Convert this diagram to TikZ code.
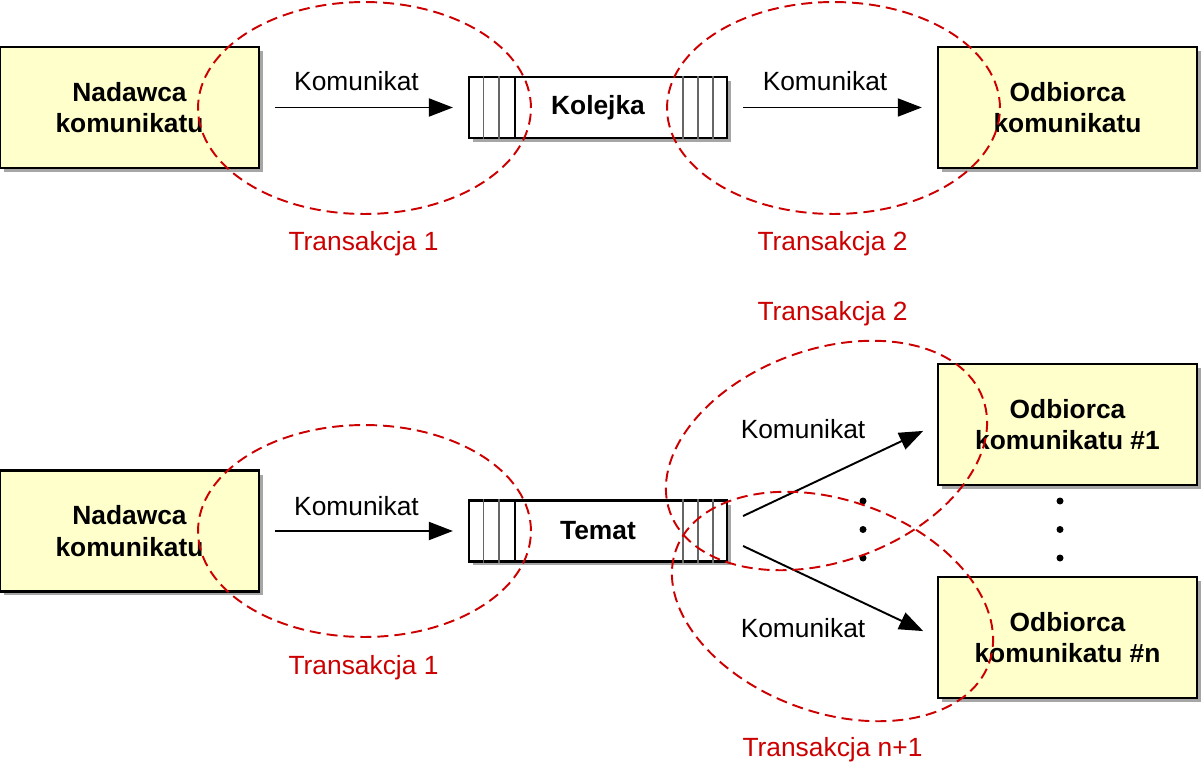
\documentclass[tikz,border=0pt]{standalone}
\usepackage{fontspec}
\setmainfont{Liberation Sans}
\usepackage{tikz}
\usetikzlibrary{arrows.meta}
\usetikzlibrary{shadows}
\definecolor{boxyellow}{RGB}{255,255,204}
\definecolor{transred}{RGB}{204,0,0}

\begin{document}
\begin{tikzpicture}[
			x=0.02cm, y=-0.02cm,
			actor/.style={rectangle, draw, line width=1.4pt, fill=boxyellow, inner sep=0pt,
				minimum width=5.18cm, minimum height=2.42cm, align=center,
				font=\fontsize{15}{18}\selectfont\bfseries,
				drop shadow={shadow xshift=0.08cm, shadow yshift=-0.08cm, opacity=1, fill=black!35}},
			queue/.style={rectangle, draw, line width=1.3pt, fill=white, inner sep=0pt,
				minimum width=5.16cm, minimum height=1.22cm,
				font=\fontsize{15}{18}\selectfont\bfseries,
				drop shadow={shadow xshift=0.08cm, shadow yshift=-0.08cm, opacity=1, fill=black!35}},
			cell/.style={black!60, line width=0.8pt},
			msg/.style={line width=1.1pt, -{Triangle[length=0.48cm, width=0.36cm]}, shorten >=0.3cm},
			msglabel/.style={anchor=base, font=\fontsize{15}{18}\selectfont},
			trans/.style={draw=transred, line width=1.1pt, dash pattern=on 0.22cm off 0.12cm},
			translabel/.style={anchor=base, text=transred, font=\fontsize{15}{18}\selectfont}
		]
		\useasboundingbox (0,0) rectangle (1201,767);

		\node[actor] (nad1) at (129.5,107.5) {Nadawca\\komunikatu};
		\node[queue] (kol) at (598,107.5) {Kolejka};
		\node[actor] (odb) at (1067.5,107.5) {Odbiorca\\komunikatu};

		\node[actor] (nad2) at (129.5,531) {Nadawca\\komunikatu};
		\node[queue] (temat) at (598,531) {Temat};
		\node[actor] (odb1) at (1067.5,424.5) {Odbiorca\\komunikatu \#1};
		\node[actor] (odbn) at (1067.5,637.5) {Odbiorca\\komunikatu \#n};

		\foreach \q in {kol, temat} {
			\foreach \i in {1,2,3} {
				\draw[cell] ([xshift=\i*0.31cm]\q.north west) -- ([xshift=\i*0.31cm]\q.south west);
				\draw[cell] ([xshift=-\i*0.3cm]\q.north east) -- ([xshift=-\i*0.3cm]\q.south east);
			}
			\draw[line width=1pt] ([xshift=0.94cm]\q.north west) -- ([xshift=0.94cm]\q.south west);
		}

		\draw[msg, shorten <=0.3cm] (nad1) -- (kol);
		\draw[msg, shorten <=0.3cm] (kol) -- (odb);
		\draw[msg, shorten <=0.3cm] (nad2) -- (temat);
		\draw[msg] ([xshift=0.3cm, yshift=0.3cm]temat.east) -- (odb1.west);
		\draw[msg] ([xshift=0.3cm, yshift=-0.3cm]temat.east) -- (odbn.west);

		\node[msglabel] (k1) at (356.5,91) {Komunikat};
		\node[msglabel] (k2) at (825,91) {Komunikat};
		\node[msglabel] (k3) at (356.5,515) {Komunikat};
		\node[msglabel] (k4) at (803,438) {Komunikat};
		\node[msglabel] (k5) at (803,637) {Komunikat};

		\foreach \y in {501,529.5,558} {
			\fill (863,\y) circle[radius=0.07cm];
			\fill (1060,\y) circle[radius=0.07cm];
		}

		\draw[trans] (364.5,108) ellipse [x radius=3.33cm, y radius=2.12cm];
		\draw[trans] (833.5,108) ellipse [x radius=3.33cm, y radius=2.12cm];
		\draw[trans] (364.5,531) ellipse [x radius=3.33cm, y radius=2.12cm];
		\draw[trans, shift={(826.5,455.5)}, rotate=20] (0,0) ellipse [x radius=3.33cm, y radius=2.12cm];
		\draw[trans, shift={(832.5,606.5)}, rotate=-20] (0,0) ellipse [x radius=3.33cm, y radius=2.12cm];

		\node[translabel] (t1) at (363.5,251) {Transakcja 1};
		\node[translabel] (t2) at (832.5,251) {Transakcja 2};
		\node[translabel] (t3) at (363.5,674) {Transakcja 1};
		\node[translabel] (t4) at (832.5,320) {Transakcja 2};
		\node[translabel] (t5) at (832.5,756) {Transakcja n+1};
	\end{tikzpicture}
\end{document}
